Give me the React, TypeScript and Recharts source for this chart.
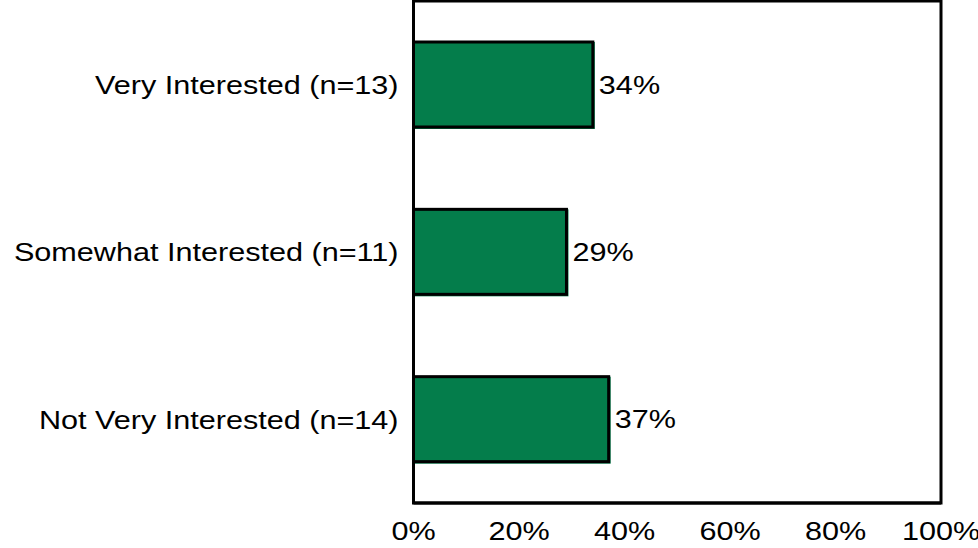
import { BarChart, Bar, XAxis, YAxis, ReferenceArea, LabelList } from "recharts";

const categories = [
  "Very Interested (n=13)",
  "Somewhat Interested (n=11)",
  "Not Very Interested (n=14)",
];
const shares = [0.34, 0.29, 0.37];
const xTicks = [0, 0.2, 0.4, 0.6, 0.8, 1];

const data = categories.map((name, i) => ({ name, value: shares[i] }));

const FONT = "'Liberation Sans', Arial, sans-serif";
const SIZE = 25.5;
const STRETCH = 1.2;

const pct = (v: number) => `${Math.round(v * 100)}%`;

function WideText({ x, y, anchor, children }: any) {
  return (
    <text
      transform={`translate(${x},${y}) scale(${STRETCH},1)`}
      textAnchor={anchor}
      fontFamily={FONT}
      fontSize={SIZE}
      fill="#000"
      dy="0.36em"
    >
      {children}
    </text>
  );
}

function CategoryTick({ x, y, payload }: any) {
  return (
    <WideText x={x - 7} y={y} anchor="end">
      {payload.value}
    </WideText>
  );
}

function PercentTick({ x, y, payload }: any) {
  return (
    <WideText x={x} y={y + 20} anchor="middle">
      {pct(payload.value)}
    </WideText>
  );
}

function ValueLabel({ x, y, width, height, value }: any) {
  return (
    <WideText x={x + width + 6} y={y + height / 2} anchor="start">
      {pct(value)}
    </WideText>
  );
}

function OutlinedBar({ x, y, width, height }: any) {
  return (
    <g>
      <rect x={x} y={y} width={width + 2} height={height + 2} fill="#047D4B" />
      <rect x={x} y={y} width={width} height={height} fill="none" stroke="#000" strokeWidth={3} />
    </g>
  );
}

export default function App() {
  return (
    <div style={{ position: "absolute", left: 0, top: 0, background: "#fff" }}>
      <BarChart
        width={978}
        height={548}
        data={data}
        layout="vertical"
        margin={{ top: 1, right: 37, bottom: 0, left: 0 }}
      >
        <XAxis
          type="number"
          domain={[0, 1]}
          ticks={xTicks}
          tick={<PercentTick />}
          tickLine={false}
          axisLine={{ stroke: "#000", strokeWidth: 3 }}
          height={45}
        />
        <YAxis
          type="category"
          dataKey="name"
          width={413.5}
          tick={<CategoryTick />}
          tickLine={false}
          axisLine={{ stroke: "#000", strokeWidth: 3 }}
        />
        <ReferenceArea
          x1={0}
          x2={1}
          fill="none"
          stroke="#000"
          strokeWidth={3}
          fillOpacity={0}
          ifOverflow="visible"
        />
        <Bar dataKey="value" barSize={85} shape={<OutlinedBar />} isAnimationActive={false}>
          <LabelList dataKey="value" content={<ValueLabel />} />
        </Bar>
      </BarChart>
    </div>
  );
}
